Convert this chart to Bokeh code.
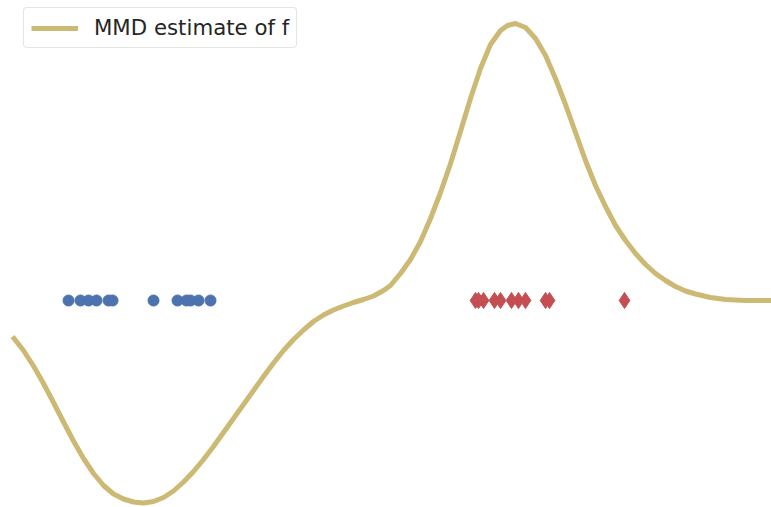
from bokeh.plotting import figure
from bokeh.models import Range1d, Legend, LegendItem
from bokeh.embed import file_html
from bokeh.resources import INLINE

# Witness function of the MMD, sampled along x
curve_x = [-5.984, -5.811, -5.653, -5.495, -5.337, -5.179, -5.021, -4.863, -4.705,
           -4.547, -4.389, -4.232, -4.074, -3.916, -3.758, -3.600, -3.442, -3.284,
           -3.126, -2.968, -2.811, -2.653, -2.495, -2.337, -2.179, -2.021, -1.863,
           -1.705, -1.547, -1.389, -1.232, -1.074, -0.916, -0.758, -0.600, -0.442,
           -0.284, -0.126, -0.016, 0.142, 0.300, 0.458, 0.616, 0.774, 0.932, 1.089,
           1.247, 1.405, 1.563, 1.721, 1.832, 1.958, 2.116, 2.274, 2.432, 2.589,
           2.747, 2.905, 3.063, 3.221, 3.379, 3.537, 3.695, 3.853, 4.011, 4.168,
           4.326, 4.484, 4.642, 4.800, 5.037, 5.274, 5.589, 6.000]
curve_y = [-0.0360, -0.0500, -0.0655, -0.0830, -0.1020, -0.1215, -0.1405, -0.1580,
           -0.1730, -0.1850, -0.1935, -0.1985, -0.2015, -0.2025, -0.2010, -0.1970,
           -0.1905, -0.1815, -0.1710, -0.1590, -0.1460, -0.1320, -0.1180, -0.1040,
           -0.0900, -0.0760, -0.0625, -0.0500, -0.0390, -0.0295, -0.0210, -0.0145,
           -0.0095, -0.0055, -0.0020, 0.0010, 0.0045, 0.0100, 0.0150, 0.0270,
           0.0410, 0.0590, 0.0820, 0.1080, 0.1370, 0.1690, 0.2020, 0.2320, 0.2560,
           0.2700, 0.2750, 0.2770, 0.2730, 0.2620, 0.2450, 0.2220, 0.1960, 0.1680,
           0.1400, 0.1150, 0.0940, 0.0750, 0.0600, 0.0470, 0.0360, 0.0270, 0.0200,
           0.0140, 0.0095, 0.0065, 0.0030, 0.0010, 0.0000, 0.0000]

# Samples from P (blue) and Q (red), shown on the zero line
p_samples = [-5.100, -4.911, -4.784, -4.658, -4.468, -4.405, -3.758, -3.379,
             -3.237, -3.174, -3.047, -2.858]
q_samples = [1.326, 1.374, 1.453, 1.626, 1.721, 1.895, 2.005, 2.116, 2.432,
             2.495, 3.679]

legend_label = "MMD estimate of f"

p = figure(width=771, height=507, output_backend="svg", toolbar_location=None,
           x_range=Range1d(-6.174, 6.0), y_range=Range1d(-0.207, 0.300),
           min_border=0)
p.axis.visible = False
p.grid.visible = False
p.outline_line_color = None
p.background_fill_color = "white"
p.border_fill_color = "white"

line = p.line(curve_x, curve_y, line_color="#CCB974", line_width=5,
              line_join="round", line_cap="butt")
p.scatter(p_samples, [0] * len(p_samples), marker="circle", size=11,
          fill_color="#4C72B0", line_color="#4C72B0")
p.scatter(q_samples, [0] * len(q_samples), marker="diamond", size=16,
          fill_color="#C44E52", line_color="#C44E52")

legend = Legend(items=[LegendItem(label=legend_label, renderers=[line])],
                location=(23, 459), glyph_width=47, glyph_height=20,
                label_standoff=16, padding=7, spacing=0, margin=0,
                label_text_font="DejaVu Sans", label_text_font_size="21.3px",
                label_text_color="#262626", label_height=20,
                border_line_color="#cccccc", border_line_width=1,
                background_fill_color="white", background_fill_alpha=0.8)
if "border_radius" in Legend.properties():
    legend.border_radius = 4
p.add_layout(legend, "center")

open("out.html", "w").write(file_html(p, INLINE))
